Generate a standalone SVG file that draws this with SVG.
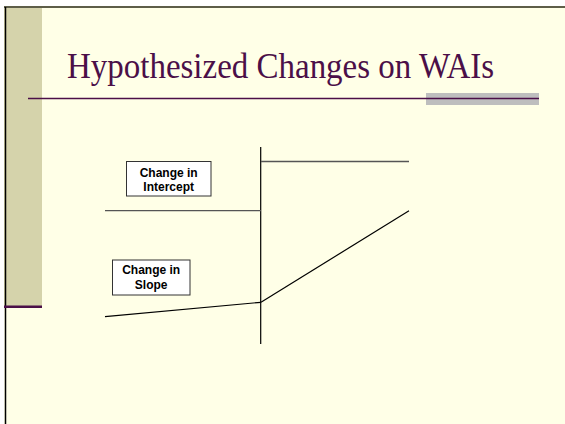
<svg xmlns="http://www.w3.org/2000/svg" width="565" height="424" viewBox="0 0 565 424">
<style>
.box{fill:#FFFFFF;stroke:#333333;stroke-width:1}
.lbl{font-family:"Liberation Sans",Arial,sans-serif;font-weight:bold;font-size:12px;fill:#000000;text-anchor:middle}
.ttl{font-family:"Liberation Serif","Times New Roman",serif;font-size:35px;fill:#4B0F48}
.gl{stroke:#555555;stroke-width:1.3;fill:none}
.bl{stroke:#000000;stroke-width:1.2;fill:none}
</style>
<rect x="0" y="0" width="565" height="424" fill="#FFFFFF"/>
<rect x="4" y="6" width="561" height="418" fill="#FFFFE7"/>
<rect x="4" y="6" width="38" height="300" fill="#D5D3AB"/>
<line x1="4" y1="7" x2="565" y2="7" stroke="#5E5E48" stroke-width="2"/>
<line x1="5.5" y1="7" x2="5.5" y2="424" stroke="#000000" stroke-width="1.5"/>
<rect x="4" y="305.5" width="38" height="2.5" fill="#4B0F48"/>
<rect x="426" y="93" width="113" height="12" fill="#BEBEBE"/>
<line x1="28" y1="98.5" x2="539" y2="98.5" stroke="#4B0F48" stroke-width="1.5"/>
<text class="ttl" x="67" y="77.5" textLength="427" lengthAdjust="spacingAndGlyphs">Hypothesized Changes on WAIs</text>
<g id="connectors">
<line class="bl" x1="260.7" y1="147" x2="260.7" y2="344"/>
<line class="gl" x1="261" y1="161.5" x2="409" y2="161.5"/>
<line class="gl" x1="105" y1="210.7" x2="261" y2="210.7"/>
<line class="bl" x1="105" y1="316.7" x2="261" y2="302.3"/>
<line class="bl" x1="261" y1="302.3" x2="409" y2="210.7"/>
</g>
<g id="intercept">
<rect class="box" x="126.5" y="161.5" width="84.5" height="34.5"/>
<text class="lbl" x="168.7" y="176.7">Change in</text>
<text class="lbl" x="168.7" y="190.7">Intercept</text>
</g>
<g id="slope">
<rect class="box" x="112.5" y="260" width="77.5" height="35"/>
<text class="lbl" x="151.2" y="274.3">Change in</text>
<text class="lbl" x="151.2" y="289">Slope</text>
</g>
</svg>
